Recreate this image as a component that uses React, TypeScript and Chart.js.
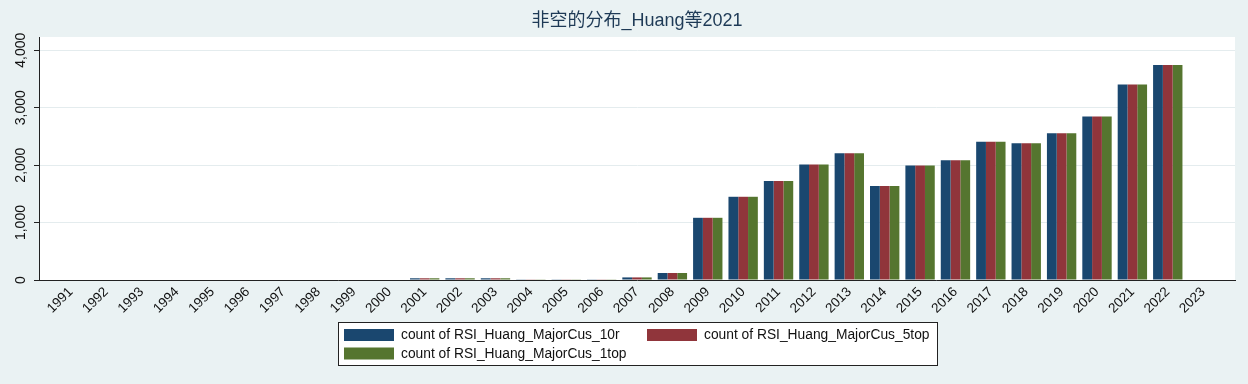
import React, { useEffect, useRef } from "react";
import { Chart, registerables } from "chart.js";

Chart.register(...registerables);

const titleText = "非空的分布_Huang等2021";
const years = [
  1991, 1992, 1993, 1994, 1995, 1996, 1997, 1998, 1999, 2000, 2001, 2002, 2003,
  2004, 2005, 2006, 2007, 2008, 2009, 2010, 2011, 2012, 2013, 2014, 2015, 2016,
  2017, 2018, 2019, 2020, 2021, 2022, 2023,
];
const yTicks = [0, 1000, 2000, 3000, 4000];
const seriesLabels = [
  "count of RSI_Huang_MajorCus_10r",
  "count of RSI_Huang_MajorCus_5top",
  "count of RSI_Huang_MajorCus_1top",
];
const count10r = [
  0, 0, 0, 0, 0, 0, 0, 0, 0, 0, 30, 30, 30, 12, 12, 12, 45, 122, 1083, 1449,
  1722, 2012, 2209, 1635, 1994, 2087, 2406, 2383, 2557, 2846, 3403, 3745, 0,
];
const count5top = [
  0, 0, 0, 0, 0, 0, 0, 0, 0, 0, 30, 30, 30, 12, 12, 12, 45, 122, 1083, 1449,
  1722, 2012, 2209, 1635, 1994, 2087, 2406, 2383, 2557, 2846, 3403, 3745, 0,
];
const count1top = [
  0, 0, 0, 0, 0, 0, 0, 0, 0, 0, 30, 30, 30, 12, 12, 12, 45, 122, 1083, 1449,
  1722, 2012, 2209, 1635, 1994, 2087, 2406, 2383, 2557, 2846, 3403, 3745, 0,
];
const seriesColors = ["#1a476f", "#90353b", "#55752f"];

const FONT = "'Liberation Sans', Arial, 'Noto Sans CJK SC', sans-serif";
const BG = "#EAF2F3";

const plotBgPlugin = {
  id: "plotBg",
  beforeDraw(chart: any) {
    const { ctx, chartArea } = chart;
    ctx.save();
    ctx.fillStyle = "#ffffff";
    ctx.fillRect(
      chartArea.left,
      chartArea.top,
      chartArea.right - chartArea.left,
      chartArea.bottom - chartArea.top
    );
    ctx.restore();
  },
};

const boxLegendPlugin = {
  id: "boxLegend",
  afterDraw(chart: any) {
    const { ctx, chartArea } = chart;
    const cx = (chartArea.left + chartArea.right) / 2;
    const boxW = 599;
    const boxH = 43;
    const left = Math.round(cx - boxW / 2) + 0.5;
    const top = 322.5;
    ctx.save();
    ctx.fillStyle = "#ffffff";
    ctx.fillRect(left, top, boxW, boxH);
    ctx.strokeStyle = "#222222";
    ctx.lineWidth = 1;
    ctx.strokeRect(left, top, boxW, boxH);
    const slots = [
      { dx: 6, dy: 7 },
      { dx: 309, dy: 7 },
      { dx: 6, dy: 25.5 },
    ];
    ctx.font = `13.8px ${FONT}`;
    ctx.textBaseline = "middle";
    ctx.textAlign = "left";
    chart.data.datasets.forEach((ds: any, i: number) => {
      const s = slots[i];
      const sx = left - 0.5 + s.dx;
      const sy = top - 0.5 + s.dy;
      ctx.fillStyle = ds.backgroundColor;
      ctx.fillRect(sx, sy, 50, 12);
      ctx.fillStyle = "#111111";
      ctx.fillText(ds.label, sx + 57, sy + 6.5);
    });
    ctx.restore();
  },
};

export default function App() {
  const canvasRef = useRef<HTMLCanvasElement | null>(null);

  useEffect(() => {
    document.body.style.margin = "0";
    document.body.style.background = BG;
    const canvas = canvasRef.current;
    if (!canvas) return;
    const allSeries = [count10r, count5top, count1top];
    const chart = new Chart(canvas, {
      type: "bar",
      data: {
        datasets: allSeries.map((vals, si) => ({
          label: seriesLabels[si],
          data: years.map((yr, i) => ({ x: yr, y: vals[i] })),
          backgroundColor: seriesColors[si],
          borderWidth: 0,
          categoryPercentage: 0.83,
          barPercentage: 1.0,
        })),
      },
      options: {
        responsive: false,
        animation: false,
        devicePixelRatio: 1,
        layout: { padding: { top: 0, left: 0, right: 13, bottom: 0 } },
        plugins: {
          legend: { display: false },
          tooltip: { enabled: false },
          title: {
            display: true,
            text: titleText,
            fullSize: false,
            color: "#1e3a56",
            font: { family: FONT, size: 18, weight: "normal" },
            padding: { top: 10, bottom: 5.4 },
          },
        },
        scales: {
          x: {
            type: "linear",
            offset: false,
            min: years[0] - 0.9,
            max: years[years.length - 1] + 0.9,
            afterBuildTicks: (scale: any) => {
              scale.ticks = years.map((v) => ({ value: v }));
            },
            afterFit: (scale: any) => {
              scale.height = 104;
            },
            grid: {
              display: true,
              offset: false,
              drawOnChartArea: false,
              drawTicks: false,
            },
            border: { display: true, color: "#222222", width: 1 },
            ticks: {
              autoSkip: false,
              minRotation: 45,
              maxRotation: 45,
              padding: 4,
              color: "#111111",
              font: { family: FONT, size: 13.5 },
              callback: (v: any) => String(v),
            },
          },
          y: {
            type: "linear",
            min: 0,
            max: 4231,
            afterBuildTicks: (scale: any) => {
              scale.ticks = yTicks.map((v) => ({ value: v }));
            },
            afterFit: (scale: any) => {
              scale.width = 39;
            },
            grid: {
              color: "#E4ECEE",
              lineWidth: 1,
              drawTicks: true,
              tickLength: 5,
              tickColor: "#222222",
            },
            border: { display: true, color: "#222222", width: 1 },
            ticks: {
              minRotation: 90,
              maxRotation: 90,
              crossAlign: "center",
              padding: -5,
              color: "#111111",
              font: { family: FONT, size: 14 },
            },
          },
        },
      },
      plugins: [plotBgPlugin, boxLegendPlugin],
    } as any);
    return () => chart.destroy();
  }, []);

  return (
    <div
      style={{
        position: "fixed",
        left: 0,
        top: 0,
        width: 1248,
        height: 384,
        background: BG,
      }}
    >
      <canvas
        ref={canvasRef}
        width={1248}
        height={384}
        style={{ display: "block", width: 1248, height: 384 }}
      />
    </div>
  );
}
